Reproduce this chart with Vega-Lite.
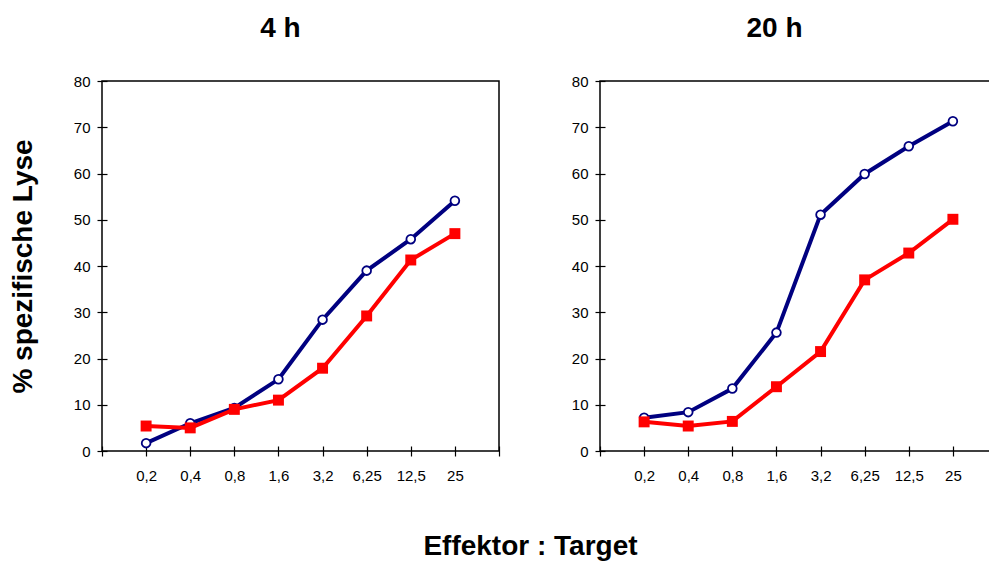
{
  "$schema": "https://vega.github.io/schema/vega-lite/v6.json",
  "background": "white",
  "padding": {"left": 8, "top": 14, "right": -9, "bottom": 0},
  "config": {
    "font": "Liberation Sans",
    "view": {"stroke": "black", "strokeWidth": 1.5},
    "axis": {
      "domain": false,
      "grid": false,
      "offset": -5,
      "tickSize": 10,
      "tickColor": "black",
      "tickWidth": 1.2,
      "labelFont": "Liberation Sans",
      "labelFontSize": 15,
      "labelColor": "black",
      "titleFont": "Liberation Sans",
      "titleColor": "black"
    },
    "title": {"font": "Liberation Sans", "color": "black", "fontWeight": "bold", "fontSize": 28}
  },
  "datasets": {
    "lyse": [
      {"zeit": "4 h", "serie": "Reihe 1", "et": "0,2", "wert": 1.7},
      {"zeit": "4 h", "serie": "Reihe 1", "et": "0,4", "wert": 6.0},
      {"zeit": "4 h", "serie": "Reihe 1", "et": "0,8", "wert": 9.3},
      {"zeit": "4 h", "serie": "Reihe 1", "et": "1,6", "wert": 15.5},
      {"zeit": "4 h", "serie": "Reihe 1", "et": "3,2", "wert": 28.4},
      {"zeit": "4 h", "serie": "Reihe 1", "et": "6,25", "wert": 39.0},
      {"zeit": "4 h", "serie": "Reihe 1", "et": "12,5", "wert": 45.8},
      {"zeit": "4 h", "serie": "Reihe 1", "et": "25", "wert": 54.1},
      {"zeit": "4 h", "serie": "Reihe 2", "et": "0,2", "wert": 5.4},
      {"zeit": "4 h", "serie": "Reihe 2", "et": "0,4", "wert": 5.0},
      {"zeit": "4 h", "serie": "Reihe 2", "et": "0,8", "wert": 9.0},
      {"zeit": "4 h", "serie": "Reihe 2", "et": "1,6", "wert": 11.0},
      {"zeit": "4 h", "serie": "Reihe 2", "et": "3,2", "wert": 17.9},
      {"zeit": "4 h", "serie": "Reihe 2", "et": "6,25", "wert": 29.2},
      {"zeit": "4 h", "serie": "Reihe 2", "et": "12,5", "wert": 41.3},
      {"zeit": "4 h", "serie": "Reihe 2", "et": "25", "wert": 47.0},
      {"zeit": "20 h", "serie": "Reihe 1", "et": "0,2", "wert": 7.2},
      {"zeit": "20 h", "serie": "Reihe 1", "et": "0,4", "wert": 8.4},
      {"zeit": "20 h", "serie": "Reihe 1", "et": "0,8", "wert": 13.5},
      {"zeit": "20 h", "serie": "Reihe 1", "et": "1,6", "wert": 25.6},
      {"zeit": "20 h", "serie": "Reihe 1", "et": "3,2", "wert": 51.1},
      {"zeit": "20 h", "serie": "Reihe 1", "et": "6,25", "wert": 59.9},
      {"zeit": "20 h", "serie": "Reihe 1", "et": "12,5", "wert": 65.9},
      {"zeit": "20 h", "serie": "Reihe 1", "et": "25", "wert": 71.3},
      {"zeit": "20 h", "serie": "Reihe 2", "et": "0,2", "wert": 6.3},
      {"zeit": "20 h", "serie": "Reihe 2", "et": "0,4", "wert": 5.4},
      {"zeit": "20 h", "serie": "Reihe 2", "et": "0,8", "wert": 6.4},
      {"zeit": "20 h", "serie": "Reihe 2", "et": "1,6", "wert": 13.9},
      {"zeit": "20 h", "serie": "Reihe 2", "et": "3,2", "wert": 21.5},
      {"zeit": "20 h", "serie": "Reihe 2", "et": "6,25", "wert": 37.0},
      {"zeit": "20 h", "serie": "Reihe 2", "et": "12,5", "wert": 42.8},
      {"zeit": "20 h", "serie": "Reihe 2", "et": "25", "wert": 50.1}
    ]
  },
  "title": {
    "text": "Effektor : Target",
    "orient": "bottom",
    "anchor": "middle",
    "frame": "bounds",
    "dx": 27,
    "offset": 49
  },
  "spacing": 69,
  "hconcat": [
    {
      "title": {"text": "4 h", "anchor": "middle", "frame": "group", "dx": -20, "offset": 31},
      "width": 397,
      "height": 370,
      "data": {"name": "lyse"},
      "transform": [{"filter": "datum.zeit === '4 h'"}],
      "encoding": {
        "x": {
          "field": "et",
          "type": "ordinal",
          "sort": ["0,2", "0,4", "0,8", "1,6", "3,2", "6,25", "12,5", "25"],
          "scale": {"type": "point", "domain": ["", "0,2", "0,4", "0,8", "1,6", "3,2", "6,25", "12,5", "25", " "], "padding": 0},
          "axis": {"title": null, "labelAngle": 0, "labelPadding": 12}
        },
        "y": {
          "field": "wert",
          "type": "quantitative",
          "scale": {"domain": [0, 80], "nice": false, "zero": true},
          "axis": {
            "title": "% spezifische Lyse",
            "titleFontSize": 28,
            "titleFontWeight": "bold",
            "titlePadding": 36,
            "values": [0, 10, 20, 30, 40, 50, 60, 70, 80],
            "labelPadding": 7
          }
        }
      },
      "layer": [
        {"transform": [{"filter": "datum.serie === 'Reihe 1'"}], "mark": {"type": "line", "color": "#000080", "strokeWidth": 4}},
        {"transform": [{"filter": "datum.serie === 'Reihe 1'"}], "mark": {"type": "point", "shape": "circle", "filled": true, "fill": "white", "stroke": "#000080", "strokeWidth": 1.8, "size": 76, "opacity": 1}},
        {"transform": [{"filter": "datum.serie === 'Reihe 2'"}], "mark": {"type": "line", "color": "#FF0000", "strokeWidth": 4}},
        {"transform": [{"filter": "datum.serie === 'Reihe 2'"}], "mark": {"type": "point", "shape": "square", "filled": true, "color": "#FF0000", "size": 120, "opacity": 1}}
      ]
    },
    {
      "title": {"text": "20 h", "anchor": "middle", "frame": "group", "dx": -24, "offset": 31},
      "width": 397,
      "height": 370,
      "data": {"name": "lyse"},
      "transform": [{"filter": "datum.zeit === '20 h'"}],
      "encoding": {
        "x": {
          "field": "et",
          "type": "ordinal",
          "sort": ["0,2", "0,4", "0,8", "1,6", "3,2", "6,25", "12,5", "25"],
          "scale": {"type": "point", "domain": ["", "0,2", "0,4", "0,8", "1,6", "3,2", "6,25", "12,5", "25", " "], "padding": 0},
          "axis": {"title": null, "labelAngle": 0, "labelPadding": 12}
        },
        "y": {
          "field": "wert",
          "type": "quantitative",
          "scale": {"domain": [0, 80], "nice": false, "zero": true},
          "axis": {
            "title": null,
            "values": [0, 10, 20, 30, 40, 50, 60, 70, 80],
            "labelPadding": 7
          }
        }
      },
      "layer": [
        {"transform": [{"filter": "datum.serie === 'Reihe 1'"}], "mark": {"type": "line", "color": "#000080", "strokeWidth": 4}},
        {"transform": [{"filter": "datum.serie === 'Reihe 1'"}], "mark": {"type": "point", "shape": "circle", "filled": true, "fill": "white", "stroke": "#000080", "strokeWidth": 1.8, "size": 76, "opacity": 1}},
        {"transform": [{"filter": "datum.serie === 'Reihe 2'"}], "mark": {"type": "line", "color": "#FF0000", "strokeWidth": 4}},
        {"transform": [{"filter": "datum.serie === 'Reihe 2'"}], "mark": {"type": "point", "shape": "square", "filled": true, "color": "#FF0000", "size": 120, "opacity": 1}}
      ]
    }
  ]
}
